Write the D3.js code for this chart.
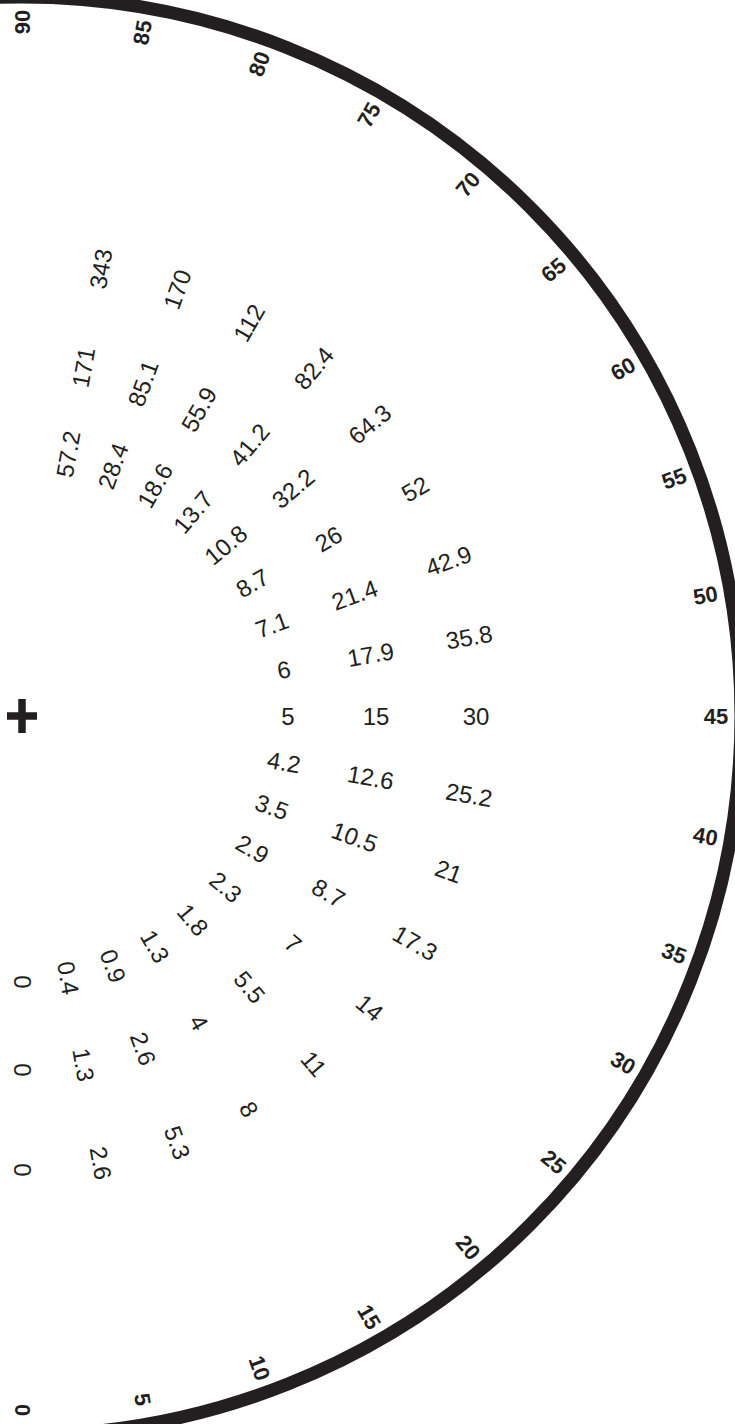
<!DOCTYPE html>
<html>
<head>
<meta charset="utf-8">
<script src="https://cdn.jsdelivr.net/npm/d3@7"></script>
<style>
  html, body { margin: 0; padding: 0; background: #fff; }
  svg { display: block; }
</style>
</head>
<body>
<div id="chart"></div>
<script>
// angles (degrees) for the value labels, and the rim tick labels
const ANGLES = [0, 5, 10, 15, 20, 25, 30, 35, 40, 45, 50, 55, 60, 65, 70, 75, 80, 85];
const TICK_LABELS = [0, 5, 10, 15, 20, 25, 30, 35, 40, 45, 50, 55, 60, 65, 70, 75, 80, 85, 90];

// one ring of numbers per series
const SERIES = ["inner", "middle", "outer"];
const INNER_VALUES = ["0", "0.4", "0.9", "1.3", "1.8", "2.3", "2.9", "3.5", "4.2", "5", "6", "7.1", "8.7", "10.8", "13.7", "18.6", "28.4", "57.2"];
const MIDDLE_VALUES = ["0", "1.3", "2.6", "4", "5.5", "7", "8.7", "10.5", "12.6", "15", "17.9", "21.4", "26", "32.2", "41.2", "55.9", "85.1", "171"];
const OUTER_VALUES = ["0", "2.6", "5.3", "8", "11", "14", "17.3", "21", "25.2", "30", "35.8", "42.9", "52", "64.3", "82.4", "112", "170", "343"];

const INK = "#231f20";
const DIMENSIONS = { width: 735, height: 1424, cx: 22, cy: 716 };
const RIM_RADIUS = 719;
const RIM_WIDTH = 13;
const TICK_RADIUS = 694;

// 0 at the bottom, 45 to the right, 90 at the top (radians, clockwise from 12 o'clock)
const angleScale = d3.scaleLinear().domain([0, 90]).range([Math.PI, 0]);
const radiusScale = d3.scaleOrdinal().domain(SERIES).range([266, 354, 454]);

const px = (a, r) => DIMENSIONS.cx + r * Math.sin(angleScale(a));
const py = (a, r) => DIMENSIONS.cy - r * Math.cos(angleScale(a));
const rot = a => angleScale(a) * 180 / Math.PI - 90;

const rows = [];
[INNER_VALUES, MIDDLE_VALUES, OUTER_VALUES].forEach((vals, i) => {
  vals.forEach((v, j) => rows.push({ series: SERIES[i], angle: ANGLES[j], label: v }));
});

const svg = d3.select("#chart")
  .append("svg")
  .attr("width", DIMENSIONS.width)
  .attr("height", DIMENSIONS.height)
  .style("font-family", "'Liberation Sans', Arial, sans-serif");

// rim
svg.append("circle")
  .attr("cx", DIMENSIONS.cx)
  .attr("cy", DIMENSIONS.cy)
  .attr("r", RIM_RADIUS)
  .attr("fill", "none")
  .attr("stroke", INK)
  .attr("stroke-width", RIM_WIDTH);

// centre cross
const cross = svg.append("g").attr("stroke", INK).attr("stroke-width", 7.5);
cross.append("line")
  .attr("x1", DIMENSIONS.cx - 15).attr("x2", DIMENSIONS.cx + 15)
  .attr("y1", DIMENSIONS.cy).attr("y2", DIMENSIONS.cy);
cross.append("line")
  .attr("x1", DIMENSIONS.cx).attr("x2", DIMENSIONS.cx)
  .attr("y1", DIMENSIONS.cy - 17).attr("y2", DIMENSIONS.cy + 17);

// rim tick labels
svg.append("g")
  .selectAll("text")
  .data(TICK_LABELS)
  .join("text")
  .attr("transform", d => `translate(${px(d, TICK_RADIUS)},${py(d, TICK_RADIUS)}) rotate(${rot(d)})`)
  .attr("text-anchor", "middle")
  .attr("dominant-baseline", "central")
  .attr("font-size", 22)
  .attr("font-weight", "bold")
  .attr("fill", INK)
  .text(d => d);

// value labels
svg.append("g")
  .selectAll("text")
  .data(rows)
  .join("text")
  .attr("transform", d => {
    const r = radiusScale(d.series);
    return `translate(${px(d.angle, r)},${py(d.angle, r)}) rotate(${rot(d.angle)})`;
  })
  .attr("text-anchor", "middle")
  .attr("dominant-baseline", "central")
  .attr("font-size", 24)
  .attr("fill", INK)
  .text(d => d.label);
</script>
</body>
</html>
